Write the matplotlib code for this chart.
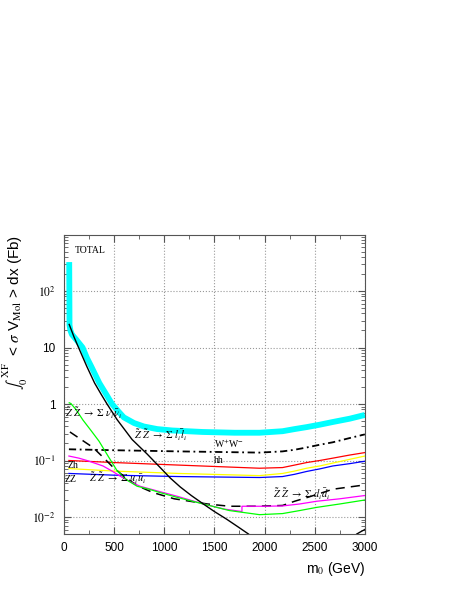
import matplotlib
matplotlib.use('Agg')
import matplotlib.pyplot as plt
from matplotlib.ticker import FixedLocator, LogLocator, MultipleLocator, NullFormatter

plt.rcParams['font.family'] = ['Liberation Sans', 'DejaVu Sans']
plt.rcParams['mathtext.fontset'] = 'stix'

# curves (m0 in GeV, integral in fb)
total_m = [53, 56, 65, 80, 120, 186, 230, 273, 353, 420, 480, 540, 597, 700, 797, 930, 1080,
           1380, 1700, 1950, 2180, 2300, 2420, 2550, 2680, 2850, 3000]
total_v = [325, 25, 20, 17, 14, 10, 6.5, 4.6, 2.35, 1.5, 1.0, 0.75, 0.58, 0.46, 0.40, 0.36, 0.34,
           0.32, 0.31, 0.31, 0.33, 0.36, 0.39, 0.43, 0.48, 0.55, 0.64]

ll_m = [53, 100, 146, 229, 306, 370, 430, 530, 680, 830, 960, 1060, 1160, 1270, 1390, 1500,
        1620, 1730, 1840]
ll_v = [25.6, 15.5, 10, 4.6, 2.35, 1.5, 1.0, 0.53, 0.235, 0.13, 0.075, 0.049, 0.034, 0.024,
        0.017, 0.0125, 0.0092, 0.0068, 0.005]

nn_m = [53, 70, 120, 190, 270, 350, 440, 530, 630, 730, 850, 960, 1140, 1390, 1650, 1950,
        2180, 2350, 2520, 2750, 3000]
nn_v = [1.05, 1.02, 0.8, 0.52, 0.34, 0.22, 0.12, 0.066, 0.045, 0.035, 0.031, 0.027, 0.022, 0.017,
        0.013, 0.011, 0.0115, 0.013, 0.0148, 0.017, 0.020]

uu_m = [50, 150, 230, 390, 480, 560, 660, 760, 960, 1140, 1390, 1600, 1775, 1775, 2000, 2180,
        2350, 2520, 2750, 3000]
uu_v = [0.12, 0.11, 0.10, 0.08, 0.065, 0.053, 0.042, 0.035, 0.028, 0.023, 0.017, 0.0138, 0.0125,
        0.0155, 0.0155, 0.0157, 0.017, 0.019, 0.021, 0.024]

dd_m = [60, 180, 290, 400, 490, 630, 760, 890, 1100, 1430, 1650, 1900, 2180, 2300, 2420, 2550,
        2680, 3000]
dd_v = [0.32, 0.23, 0.17, 0.11, 0.076, 0.047, 0.034, 0.027, 0.021, 0.017, 0.0155, 0.0155, 0.016,
        0.019, 0.022, 0.026, 0.031, 0.037]

flat_m = [50, 500, 1140, 1950, 2180, 2300, 2420, 2550, 2680, 2850, 3000]
ww_v = [0.158, 0.152, 0.145, 0.138, 0.145, 0.155, 0.17, 0.19, 0.21, 0.25, 0.29]
hh_v = [0.10, 0.092, 0.083, 0.073, 0.075, 0.083, 0.092, 0.10, 0.11, 0.125, 0.138]
zh_v = [0.072, 0.065, 0.059, 0.054, 0.059, 0.065, 0.073, 0.08, 0.09, 0.105, 0.12]
zz_v = [0.059, 0.055, 0.052, 0.05, 0.052, 0.057, 0.064, 0.071, 0.08, 0.088, 0.097]

tail_m = [2920, 2960, 3000]
tail_v = [0.005, 0.0055, 0.006]

ytick_vals = [1e-2, 1e-1, 1, 10, 100]
ytick_labels = ['$10^{-2}$', '$10^{-1}$', '1', '10', '$10^{2}$']

fig = plt.figure(figsize=(4.63, 5.99), dpi=100)
ax = fig.add_axes([0.138, 0.1085, 0.65, 0.5])

ax.plot(total_m, total_v, color='cyan', lw=4.2, solid_capstyle='butt')
ax.plot(flat_m, ww_v, color='black', lw=1.3, ls=(0, (4, 2, 1, 2)))
ax.plot(flat_m, hh_v, color='red', lw=0.9)
ax.plot(flat_m, zh_v, color='yellow', lw=0.9)
ax.plot(flat_m, zz_v, color='blue', lw=0.9)
ax.plot(dd_m, dd_v, color='black', lw=1.1, ls=(0, (6, 4)))
ax.plot(uu_m, uu_v, color='magenta', lw=0.9)
ax.plot(nn_m, nn_v, color='lime', lw=0.9)
ax.plot(ll_m, ll_v, color='black', lw=1.0)
ax.plot(tail_m, tail_v, color='black', lw=1.0)

ax.set_yscale('log')
ax.set_xlim(0, 3000)
ax.set_ylim(5e-3, 1e3)
ax.xaxis.set_major_locator(MultipleLocator(500))
ax.xaxis.set_minor_locator(MultipleLocator(250))
ax.yaxis.set_major_locator(FixedLocator(ytick_vals))
ax.set_yticklabels(ytick_labels)
ax.yaxis.set_minor_locator(LogLocator(base=10, subs=range(2, 10)))
ax.yaxis.set_minor_formatter(NullFormatter())
ax.tick_params(which='both', direction='in', top=True, right=True, colors='#555555',
               labelcolor='black', labelsize=8.5)
ax.tick_params(which='major', length=5, pad=6)
ax.tick_params(which='minor', length=3)
for s in ax.spines.values():
    s.set_color('#555555')
ax.grid(True, which='major', ls=':', color='#999999', lw=0.8)

ax.set_xlabel('m$_0$ (GeV)', fontsize=10, loc='right')
ax.set_ylabel(r'$\int_{0}^{\,\mathrm{XF}}$  < $\sigma$ V$_{\mathrm{Mol}}$ > dx (Fb)',
              fontsize=11, loc='top', labelpad=2)

lab = dict(family=['Liberation Serif', 'DejaVu Serif'], fontsize=7)
arr = dict(family=['Liberation Serif', 'DejaVu Serif'], fontsize=7.5)
ax.text(110, 470, 'TOTAL', **lab)
ax.text(15, 0.57, r'$\tilde{Z}\ \tilde{Z}\ \rightarrow\ \Sigma\ \nu_i\bar{\nu}_i$', **arr)
ax.text(700, 0.235, r'$\tilde{Z}\ \tilde{Z}\ \rightarrow\ \Sigma\ l_i\bar{l}_i$', **arr)
ax.text(1500, 0.165, r'W$^{+}$W$^{-}$', **lab)
ax.text(1500, 0.09, 'hh', **lab)
ax.text(40, 0.073, 'Zh', **lab)
ax.text(10, 0.042, 'ZZ', **lab)
ax.text(250, 0.04, r'$\tilde{Z}\ \tilde{Z}\ \rightarrow\ \Sigma\ u_i\bar{u}_i$', **arr)
ax.text(2080, 0.021, r'$\tilde{Z}\ \tilde{Z}\ \rightarrow\ \Sigma\ d_i\bar{d}_i$', **arr)

fig.savefig('out.png', dpi=100)
